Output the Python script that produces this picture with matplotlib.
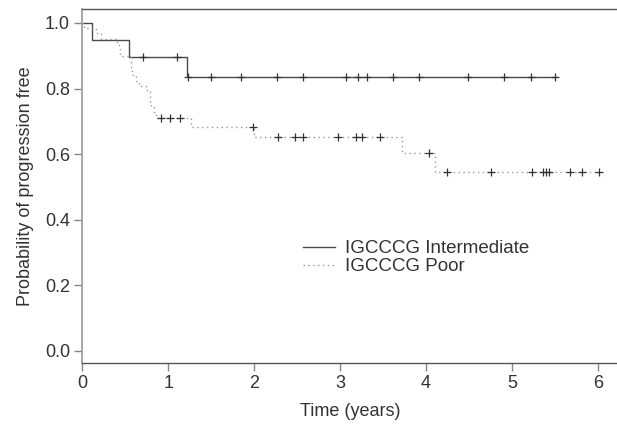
import numpy as np
import matplotlib
matplotlib.use("Agg")
import matplotlib.pyplot as plt

plt.rcParams['font.family'] = ['Liberation Sans', 'DejaVu Sans']

# ---- data (Kaplan-Meier step curves) ----
int_times = [0.0, 0.11, 0.54, 1.22, 5.50]
int_surv = [1.0, 0.948, 0.895, 0.836, 0.836]
int_censor = [0.71, 1.10, 1.23, 1.50, 1.85, 2.26, 2.57, 3.07, 3.21, 3.31,
              3.61, 3.92, 4.49, 4.91, 5.22, 5.50]

poor_times = [0.0, 0.02, 0.16, 0.21, 0.40, 0.42, 0.44, 0.56, 0.565, 0.57,
              0.575, 0.62, 0.66, 0.75, 0.78, 0.79, 0.80, 0.83, 0.86, 1.26,
              2.00, 3.72, 4.10, 6.01]
poor_surv = [1.0, 0.984, 0.968, 0.952, 0.936, 0.920, 0.900, 0.888, 0.872, 0.856,
             0.840, 0.824, 0.808, 0.792, 0.776, 0.760, 0.744, 0.728, 0.711, 0.683,
             0.651, 0.602, 0.546, 0.546]
poor_censor = [0.91, 1.02, 1.14, 1.99, 2.27, 2.47, 2.57, 2.97, 3.18, 3.25,
               3.46, 4.03, 4.24, 4.76, 5.23, 5.36, 5.40, 5.43, 5.67, 5.81, 6.01]

series_labels = ["IGCCCG Intermediate", "IGCCCG Poor"]
x_ticks = [0, 1, 2, 3, 4, 5, 6]
y_ticks = [0.0, 0.2, 0.4, 0.6, 0.8, 1.0]


def surv_at(times, surv, t):
    idx = np.searchsorted(np.asarray(times), t, side='right') - 1
    return np.asarray(surv)[idx]


W, H = 617, 424
fig = plt.figure(figsize=(W / 100, H / 100), dpi=100)
ax = fig.add_axes([82.5 / W, 1 - 362.7 / H, 1 - 82.5 / W, (362.7 - 9) / H])

txt = '#333333'
ax.step(int_times, int_surv, where='post', color='#4a4a4a', lw=1.0,
        label=series_labels[0])
ax.step(poor_times, poor_surv, where='post', color='#999999', lw=1.0,
        linestyle=(0, (1, 2.5)), label=series_labels[1])

ax.plot(int_censor, [surv_at(int_times, int_surv, t) for t in int_censor],
        linestyle='none', marker='+', ms=5.5, mew=0.9, color='#333333')
ax.plot(poor_censor, [surv_at(poor_times, poor_surv, t) for t in poor_censor],
        linestyle='none', marker='+', ms=5.5, mew=0.9, color='#333333')

ax.set_xlim(0, 6.222)
ax.set_ylim(-0.0366, 1.0427)
ax.set_xticks(x_ticks)
ax.set_xticklabels([str(v) for v in x_ticks])
ax.set_yticks(y_ticks)
ax.set_yticklabels([f"{v:.1f}" for v in y_ticks])

for s in ['top', 'bottom']:
    ax.spines[s].set_color('#555555')
    ax.spines[s].set_linewidth(1.0)
ax.spines['left'].set_color('#999999')
ax.spines['left'].set_linewidth(1.2)
ax.spines['right'].set_visible(False)

ax.tick_params(axis='both', length=6, width=1.0, color='#888888',
               labelsize=13, labelcolor=txt, pad=3)

ax.set_xlabel("Time (years)", fontsize=13, color=txt, labelpad=8)
ax.set_ylabel("Probability of progression free", fontsize=13, color=txt, labelpad=8)

leg = ax.legend(loc='upper left', bbox_to_anchor=(303 / W, 1 - 240 / H),
                bbox_transform=fig.transFigure, frameon=False, fontsize=13.5,
                handlelength=1.7, handletextpad=0.53, labelspacing=0.05,
                borderpad=0, borderaxespad=0)
for t in leg.get_texts():
    t.set_color(txt)

fig.savefig("out.png", dpi=100)
